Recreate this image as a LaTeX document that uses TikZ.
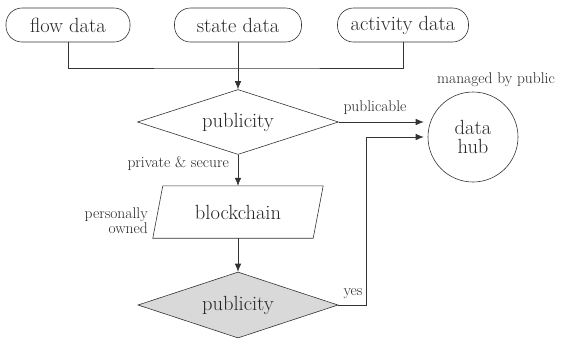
\documentclass[tikz,border=0pt]{standalone}
\usetikzlibrary{shapes.geometric,arrows.meta}
\newcommand\bigf{\fontsize{20.5}{22}\selectfont}
\newcommand\smallf{\fontsize{15.5}{17}\selectfont}
\begin{document}
\begin{tikzpicture}[x=1pt,y=-1pt,
  every node/.style={text=black!85},
  line/.style={draw=black!80, line width=0.6pt},
  arr/.style={line, -{Latex[length=8pt,width=6.5pt]}},
  term/.style={line, rectangle, rounded corners=16pt, minimum height=34pt, inner sep=0pt, font=\bigf},
  dec/.style={line, diamond, aspect=3.1, inner sep=0pt, font=\bigf},
  circ/.style={line, circle, minimum size=90pt, inner sep=0pt, align=center, font=\bigf},
  plain/.style={rectangle, minimum width=160pt, minimum height=52pt, inner sep=0pt, font=\bigf},
  lab/.style={font=\smallf, inner sep=0pt}]
\useasboundingbox (0,0) rectangle (562,341);
\node[term, minimum width=124pt] (flow) at (68,25) {flow data};
\node[term, minimum width=127pt] (state) at (238,25) {state data};
\node[term, minimum width=131pt] (act) at (403,25) {activity data};
\coordinate (j) at (238,68);
\node[dec, minimum width=201pt, minimum height=65pt] (d1) at (238,122) {publicity};
\node[circ] (hub) at (473,137) {data\\[-3pt]hub};
\node[lab] (mlab) at (496,80) {managed by public};
\node[plain] (blk) at (238,212) {blockchain};
\draw[line] ([xshift=5pt]blk.north west) -- ([xshift=5pt]blk.north east) -- ([xshift=-5pt]blk.south east) -- ([xshift=-5pt]blk.south west) -- cycle;
\node[dec, fill=gray!30, minimum width=200pt, minimum height=66pt] (d2) at (238,305) {publicity};
\node[lab] (plab) at (375,108) {publicable};
\node[lab, anchor=east] (slab) at (229,164) {private \& secure};
\node[lab, anchor=east, align=right] (olab) at (148,221) {personally\\[-2pt]owned};
\node[lab] (ylab) at (353,294) {yes};
\draw[line] (flow.south) |- (j) -| (act.south);
\draw[arr] (state.south) -- (d1.north);
\draw[arr] (d1.east) -- ([xshift=-4pt]hub.west |- d1.east);
\draw[arr] (d1.south) -- (blk.north);
\draw[arr] (blk.south) -- (d2.north);
\draw[arr] (d2.east) -- ++(28,0) coordinate (c) |- ([xshift=-4pt]hub.west);
\end{tikzpicture}
\end{document}
